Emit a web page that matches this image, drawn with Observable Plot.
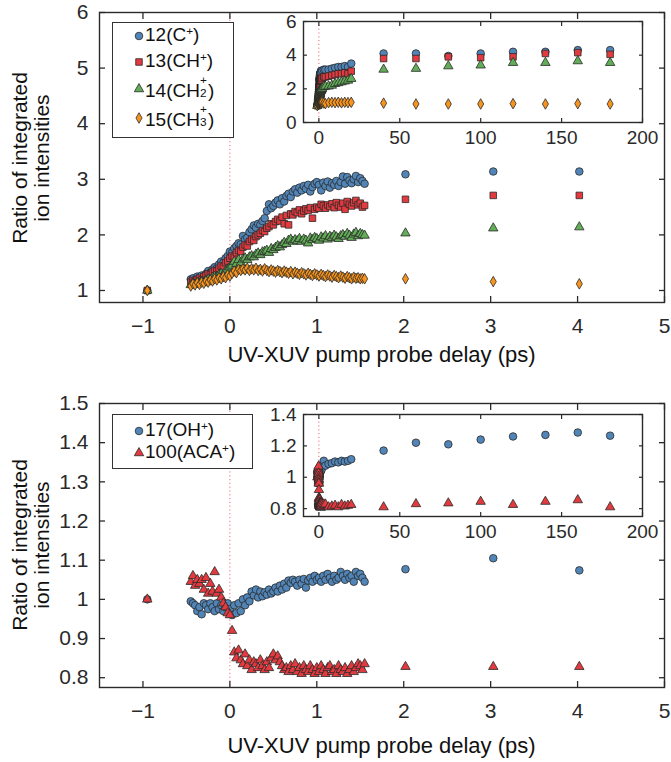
<!DOCTYPE html>
<html><head><meta charset="utf-8">
<script src="https://cdn.jsdelivr.net/npm/d3@7"></script>
<script src="https://cdn.jsdelivr.net/npm/@observablehq/plot@0.6"></script>
<style>
body{margin:0;background:#fff;font-family:"Liberation Sans",Arial,Helvetica,sans-serif;color:#111;}
#wrap{position:relative;width:671px;height:762px;overflow:hidden;background:#fff;}
#wrap > svg, #wrap > figure{position:absolute;margin:0;}
.xt{position:absolute;font-size:22px;white-space:nowrap;transform:translate(-50%,-50%);}
.yt{position:absolute;font-size:21px;line-height:22px;white-space:nowrap;text-align:center;transform:translate(-50%,-50%) rotate(-90deg);}
.legend{position:absolute;border:1.3px solid #333;background:#fff;box-sizing:border-box;}
.lent{position:absolute;font-size:19px;white-space:nowrap;line-height:20px;transform:translateY(-50%);}
.lmk{position:absolute;overflow:visible;}
.sup{font-size:0.62em;position:relative;top:-0.55em;}
.ss{display:inline-block;position:relative;width:0.42em;height:1em;vertical-align:baseline;}
.ss .p{position:absolute;left:0;top:-0.3em;font-size:0.62em;line-height:1;}
.ss .b{position:absolute;left:0;top:0.78em;font-size:0.62em;line-height:1;}
</style></head>
<body><div id="wrap"></div>
<script>
// ---------- data ----------
const delayRef = [-0.95];
const delayFine = [-0.45,-0.425,-0.4,-0.375,-0.35,-0.325,-0.3,-0.275,-0.25,-0.225,-0.2,-0.175,-0.15,-0.125,-0.1,-0.075,-0.05,-0.025,0,0.025,0.05,0.075,0.1,0.125,0.15,0.175,0.2,0.225,0.25,0.275,0.3,0.325,0.35,0.375,0.4,0.425,0.45,0.475,0.5,0.525,0.55,0.575,0.6,0.625,0.65,0.675,0.7,0.725,0.75,0.775,0.8,0.825,0.85,0.875,0.9,0.925,0.95,0.975,1,1.025,1.05,1.075,1.1,1.125,1.15,1.175,1.2,1.225,1.25,1.275,1.3,1.325,1.35,1.375,1.4,1.425,1.45,1.475,1.5,1.525,1.55];
const delayMid = [2.02, 3.03, 4.02];
const delayLong = [6, 8, 10, 12, 14, 16, 18, 20];
const delayFar = [40, 60, 80, 100, 120, 140, 160, 180];

// top panel series
const c12Ref = [1.0];
const c12Fine = [1.20,1.22,1.19,1.25,1.23,1.27,1.25,1.30,1.35,1.32,1.38,1.42,1.40,1.47,1.52,1.50,1.58,1.62,1.70,1.68,1.76,1.80,1.85,1.83,1.98,1.92,1.95,2.05,2.10,2.17,2.13,2.20,2.18,2.25,2.30,2.43,2.55,2.48,2.52,2.58,2.62,2.55,2.66,2.60,2.70,2.74,2.68,2.78,2.82,2.76,2.85,2.80,2.88,2.83,2.90,2.78,2.86,2.92,2.95,2.90,2.80,2.94,2.88,2.96,2.85,2.93,2.90,2.97,2.88,2.95,3.05,2.92,3.04,2.98,2.93,3.00,3.06,2.95,3.02,2.97,2.92];
const c12Mid = [3.09, 3.14, 3.14];
const c12Long = [3.15, 3.2, 3.25, 3.3, 3.3, 3.35, 3.3, 3.5];
const c12Far = [4.1, 4.1, 3.95, 4.1, 4.2, 4.2, 4.3, 4.3];

const ch13Ref = [1.0];
const ch13Fine = [1.15,1.18,1.16,1.20,1.22,1.19,1.25,1.27,1.30,1.28,1.33,1.36,1.35,1.40,1.44,1.42,1.50,1.53,1.58,1.62,1.60,1.68,1.72,1.70,1.78,1.82,1.80,1.88,1.92,1.90,1.97,2.00,2.03,2.08,2.06,2.12,2.15,2.20,2.18,2.24,2.28,2.25,2.32,2.20,2.35,2.18,2.38,2.36,2.42,2.40,2.45,2.38,2.43,2.47,2.44,2.49,2.30,2.46,2.50,2.48,2.55,2.52,2.48,2.54,2.51,2.56,2.49,2.58,2.53,2.50,2.57,2.46,2.60,2.55,2.52,2.58,2.62,2.54,2.57,2.50,2.53];
const ch13Mid = [2.64, 2.71, 2.71];
const ch13Long = [2.75, 2.8, 2.85, 2.9, 2.9, 2.95, 2.9, 3.05];
const ch13Far = [3.8, 3.8, 3.9, 3.85, 3.9, 4.1, 4.15, 4.05];

const ch2Ref = [1.0];
const ch2Fine = [1.10,1.12,1.11,1.14,1.13,1.16,1.15,1.18,1.20,1.19,1.23,1.25,1.24,1.28,1.30,1.29,1.35,1.38,1.42,1.45,1.52,1.48,1.55,1.50,1.56,1.58,1.55,1.60,1.62,1.60,1.65,1.67,1.64,1.69,1.70,1.72,1.68,1.75,1.73,1.77,1.80,1.78,1.82,1.86,1.84,1.90,1.92,1.88,1.91,1.89,1.93,1.88,1.92,1.90,1.85,1.94,1.91,1.95,1.93,1.90,1.96,1.94,1.98,1.92,1.97,1.95,1.99,1.96,1.93,1.98,2.00,1.97,2.02,1.99,1.95,2.01,2.04,1.98,2.02,2.00,1.99];
const ch2Mid = [2.03, 2.12, 2.14];
const ch2Long = [2.15, 2.2, 2.3, 2.35, 2.4, 2.45, 2.5, 2.6];
const ch2Far = [3.15, 3.2, 3.35, 3.4, 3.55, 3.55, 3.65, 3.55];

const ch3Ref = [1.0];
const ch3Fine = [1.08,1.12,1.10,1.14,1.11,1.15,1.13,1.17,1.15,1.19,1.17,1.21,1.19,1.23,1.21,1.25,1.23,1.28,1.26,1.31,1.35,1.32,1.38,1.36,1.39,1.37,1.40,1.36,1.39,1.37,1.40,1.36,1.38,1.35,1.39,1.36,1.34,1.37,1.35,1.33,1.36,1.34,1.32,1.35,1.33,1.31,1.34,1.30,1.33,1.31,1.29,1.32,1.30,1.28,1.31,1.29,1.27,1.30,1.28,1.26,1.29,1.27,1.25,1.28,1.26,1.24,1.27,1.25,1.23,1.26,1.24,1.22,1.25,1.23,1.21,1.24,1.22,1.23,1.21,1.22,1.21];
const ch3Mid = [1.21, 1.16, 1.12];
const ch3Long = [1.18, 1.2, 1.18, 1.2, 1.17, 1.2, 1.18, 1.2];
const ch3Far = [1.15, 1.1, 1.1, 1.1, 1.12, 1.1, 1.12, 1.1];

// bottom panel series
const oh17Ref = [1.0];
const oh17Fine = [0.995,0.99,0.985,0.97,0.98,0.962,0.99,0.985,0.975,0.99,0.98,0.97,0.99,0.975,0.985,0.97,0.98,0.99,0.975,0.96,0.985,0.965,0.99,0.97,1.0,0.985,1.005,0.995,1.02,1.01,1.025,1.005,1.02,1.008,1.018,1.012,1.025,1.015,1.02,1.03,1.02,1.035,1.025,1.04,1.03,1.048,1.042,1.05,1.045,1.035,1.05,1.04,1.052,1.03,1.048,1.055,1.045,1.06,1.05,1.055,1.045,1.06,1.05,1.065,1.055,1.045,1.06,1.05,1.055,1.07,1.06,1.05,1.065,1.055,1.06,1.045,1.07,1.06,1.065,1.055,1.045];
const oh17Mid = [1.077, 1.105, 1.074];
const oh17Long = [1.085, 1.09, 1.1, 1.095, 1.105, 1.1, 1.105, 1.115];
const oh17Far = [1.17, 1.22, 1.21, 1.24, 1.26, 1.27, 1.285, 1.265];

const aca100Ref = [1.0];
const aca100Fine = [1.045,1.06,1.035,1.05,1.04,1.05,1.025,1.055,1.015,1.04,1.02,1.07,1.015,1.025,1.005,0.99,0.98,0.965,0.96,0.92,0.865,0.85,0.87,0.845,0.835,0.86,0.83,0.845,0.82,0.84,0.835,0.825,0.845,0.83,0.82,0.84,0.825,0.85,0.86,0.845,0.855,0.84,0.83,0.82,0.825,0.815,0.83,0.82,0.835,0.815,0.825,0.81,0.83,0.82,0.815,0.83,0.82,0.81,0.825,0.815,0.83,0.82,0.81,0.825,0.83,0.815,0.82,0.81,0.83,0.82,0.815,0.825,0.81,0.82,0.83,0.815,0.825,0.835,0.83,0.82,0.835];
const aca100Mid = [0.828, 0.828, 0.828];
const aca100Long = [0.81, 0.815, 0.82, 0.81, 0.825, 0.815, 0.82, 0.825];
const aca100Far = [0.81, 0.83, 0.835, 0.845, 0.825, 0.845, 0.855, 0.81];

// ticks
const xTicksMain = [-1, 0, 1, 2, 3, 4, 5];
const yTicksTop = [1, 2, 3, 4, 5, 6];
const yTicksBottom = [0.8, 0.9, 1.0, 1.1, 1.2, 1.3, 1.4, 1.5];
const xTicksInset = [0, 50, 100, 150, 200];
const yTicksTopInset = [0, 2, 4, 6];
const yTicksBottomInset = [0.8, 1.0, 1.2, 1.4];

const xLabel = "UV-XUV pump probe delay (ps)";
const yLabel = ["Ratio of integrated", "ion intensities"];

// ---------- helpers ----------
const FONT = '"Liberation Sans", Arial, Helvetica, sans-serif';
const INK = "#2a2a2a";
const COL = {blue: "#5185b7", red: "#e23a3f", green: "#62ad57", orange: "#f7941d"};
const SYM = {circle: 3.8, square: 3.7, triangle: 3.5, diamond: 3.2};
const fmt = d => (d < 0 ? "\u2212" + Math.abs(d) : String(+d.toFixed(4)));

function rows(xs, ys) { return xs.map((x, i) => ({x, y: ys[i]})); }

const topSeries = [
  {color: COL.blue, symbol: "circle", main: [...rows(delayRef, c12Ref), ...rows(delayFine, c12Fine), ...rows(delayMid, c12Mid)], extra: [...rows(delayLong, c12Long), ...rows(delayFar, c12Far)]},
  {color: COL.red, symbol: "square", main: [...rows(delayRef, ch13Ref), ...rows(delayFine, ch13Fine), ...rows(delayMid, ch13Mid)], extra: [...rows(delayLong, ch13Long), ...rows(delayFar, ch13Far)]},
  {color: COL.green, symbol: "triangle", main: [...rows(delayRef, ch2Ref), ...rows(delayFine, ch2Fine), ...rows(delayMid, ch2Mid)], extra: [...rows(delayLong, ch2Long), ...rows(delayFar, ch2Far)]},
  {color: COL.orange, symbol: "diamond", main: [...rows(delayRef, ch3Ref), ...rows(delayFine, ch3Fine), ...rows(delayMid, ch3Mid)], extra: [...rows(delayLong, ch3Long), ...rows(delayFar, ch3Far)]}
];
const bottomSeries = [
  {color: COL.blue, symbol: "circle", main: [...rows(delayRef, oh17Ref), ...rows(delayFine, oh17Fine), ...rows(delayMid, oh17Mid)], extra: [...rows(delayLong, oh17Long), ...rows(delayFar, oh17Far)]},
  {color: COL.red, symbol: "triangle", main: [...rows(delayRef, aca100Ref), ...rows(delayFine, aca100Fine), ...rows(delayMid, aca100Mid)], extra: [...rows(delayLong, aca100Long), ...rows(delayFar, aca100Far)]}
];

function dots(data, s) {
  return Plot.dot(data, {x: "x", y: "y", symbol: () => s.symbol, r: SYM[s.symbol], fill: s.color, stroke: INK, strokeWidth: 0.8});
}

function panel({series, yDomain, yTicks, height, mT, mB}) {
  return Plot.plot({
    width: 671, height, marginLeft: 99, marginRight: 7, marginTop: mT, marginBottom: mB,
    style: {fontFamily: FONT, fontSize: "21px", color: INK, background: "transparent", overflow: "visible"},
    x: {domain: [-1.5, 5]},
    y: {domain: yDomain},
    symbol: {type: "identity"},
    marks: [
      Plot.ruleX([0], {stroke: "#ec6a70", strokeDasharray: "1.2,2.6", strokeWidth: 1}),
      ...series.map(s => dots(s.main, s)),
      Plot.axisX({ticks: xTicksMain, anchor: "bottom", tickSize: -6, tickPadding: 22, tickFormat: fmt, label: null, strokeWidth: 1.3}),
      Plot.axisX({ticks: xTicksMain, anchor: "top", tickSize: -6, tickFormat: () => "", label: null, strokeWidth: 1.3}),
      Plot.axisY({ticks: yTicks, anchor: "left", tickSize: -6, tickPadding: 17, tickFormat: fmt, label: null, strokeWidth: 1.3}),
      Plot.axisY({ticks: yTicks, anchor: "right", tickSize: -6, tickFormat: () => "", label: null, strokeWidth: 1.3}),
      Plot.frame({stroke: INK, strokeWidth: 1.4})
    ]
  });
}

function inset({series, yDomain, yTicks, mT, mB}) {
  return Plot.plot({
    width: 410, height: 142, marginLeft: 53, marginRight: 18, marginTop: mT, marginBottom: mB,
    style: {fontFamily: FONT, fontSize: "19px", color: INK, background: "transparent", overflow: "visible"},
    x: {domain: [-9.5, 200]},
    y: {domain: yDomain},
    symbol: {type: "identity"},
    marks: [
      Plot.ruleX([0], {stroke: "#ec6a70", strokeDasharray: "1.2,2.6", strokeWidth: 1}),
      ...series.map(s => dots([...s.main, ...s.extra], s)),
      Plot.axisX({ticks: xTicksInset, anchor: "bottom", tickSize: -4, tickPadding: 12, tickFormat: fmt, label: null, strokeWidth: 1.2}),
      Plot.axisX({ticks: xTicksInset, anchor: "top", tickSize: -4, tickFormat: () => "", label: null, strokeWidth: 1.2}),
      Plot.axisY({ticks: yTicks, anchor: "left", tickSize: -4, tickPadding: 11, tickFormat: fmt, label: null, strokeWidth: 1.2}),
      Plot.axisY({ticks: yTicks, anchor: "right", tickSize: -4, tickFormat: () => "", label: null, strokeWidth: 1.2}),
      Plot.frame({stroke: INK, strokeWidth: 1.4})
    ]
  });
}

const wrap = document.getElementById("wrap");
function place(el, left, top) { el.style.left = left + "px"; el.style.top = top + "px"; wrap.appendChild(el); }

place(panel({series: topSeries, yDomain: [0.784, 6], yTicks: yTicksTop, height: 380, mT: 12, mB: 78}), 0, 0);
place(panel({series: bottomSeries, yDomain: [0.775, 1.5], yTicks: yTicksBottom, height: 382, mT: 23, mB: 75}), 0, 380);
place(inset({series: topSeries, yDomain: [0, 6], yTicks: yTicksTopInset, mT: 13, mB: 28}), 250, 8);
place(inset({series: bottomSeries, yDomain: [0.75, 1.4], yTicks: yTicksBottomInset, mT: 14, mB: 26}), 250, 400);

// axis titles
function xTitle(cy) { const d = document.createElement("div"); d.className = "xt"; d.textContent = xLabel; place(d, 381.5, cy); }
function yTitle(cy) { const d = document.createElement("div"); d.className = "yt"; d.innerHTML = yLabel.join("<br>"); place(d, 31, cy); }
xTitle(355); xTitle(746);
yTitle(158); yTitle(545);

// legends
const legendTop = [
  {html: '12(C<span class="sup">+</span>)', symbol: "circle", color: COL.blue},
  {html: '13(CH<span class="sup">+</span>)', symbol: "square", color: COL.red},
  {html: '14(CH<span class="ss"><span class="p">+</span><span class="b">2</span></span>)', symbol: "triangle", color: COL.green},
  {html: '15(CH<span class="ss"><span class="p">+</span><span class="b">3</span></span>)', symbol: "diamond", color: COL.orange}
];
const legendBottom = [
  {html: '17(OH<span class="sup">+</span>)', symbol: "circle", color: COL.blue},
  {html: '100(ACA<span class="sup">+</span>)', symbol: "triangle", color: COL.red}
];
const d3sym = {circle: d3.symbolCircle, square: d3.symbolSquare, triangle: d3.symbolTriangle, diamond: d3.symbolDiamond};

function legend(items, left, top, w, h, rowsY) {
  const box = document.createElement("div");
  box.className = "legend";
  box.style.width = w + "px"; box.style.height = h + "px";
  items.forEach((it, i) => {
    const cy = rowsY[i];
    const svg = d3.create("svg").attr("class", "lmk").attr("width", 12).attr("height", 12)
      .style("left", "20px").style("top", (cy - 6) + "px");
    const r = SYM[it.symbol];
    svg.append("path").attr("transform", "translate(6,6)")
      .attr("d", d3.symbol(d3sym[it.symbol], Math.PI * r * r)())
      .attr("fill", it.color).attr("stroke", INK).attr("stroke-width", 0.8);
    box.appendChild(svg.node());
    const t = document.createElement("div");
    t.className = "lent"; t.innerHTML = it.html;
    t.style.left = "32px"; t.style.top = cy + "px";
    box.appendChild(t);
  });
  place(box, left, top);
}
legend(legendTop, 112, 22, 122, 116, [13, 39, 66, 95]);
legend(legendBottom, 112, 414, 141, 55, [16, 38]);
</script>
</body></html>
